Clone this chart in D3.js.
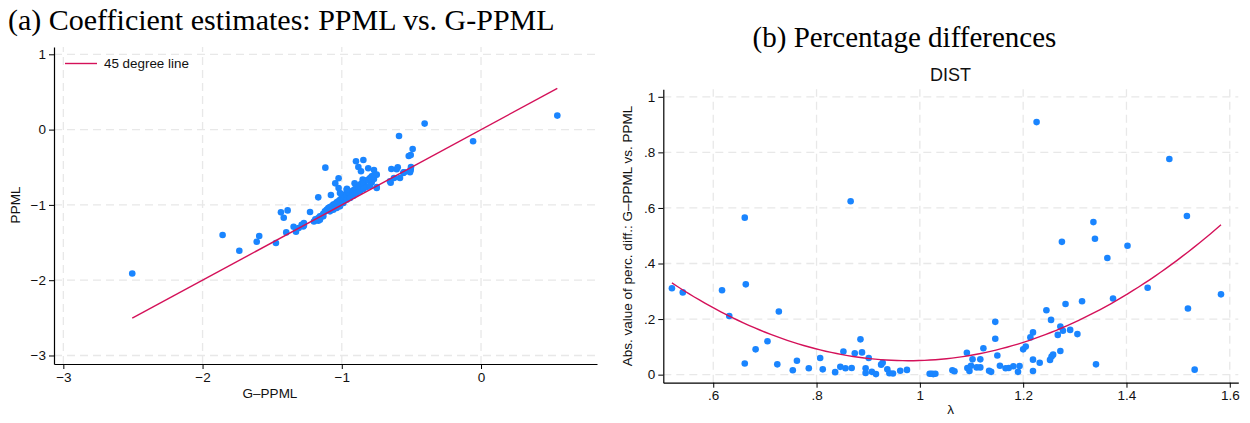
<!DOCTYPE html>
<html>
<head>
<meta charset="utf-8">
<script src="https://cdn.jsdelivr.net/npm/d3@7"></script>
<style>
  html, body { margin: 0; padding: 0; background: #ffffff; }
  svg { display: block; }
  .tick text { font-family: "Liberation Sans", Arial, sans-serif; font-size: 13.5px; fill: #111; }
  .tick line { stroke: #000; stroke-width: 1; }
  .domain { stroke: #000; stroke-width: 1.2; }
</style>
</head>
<body>
<svg id="chart" width="1250" height="423"></svg>
<script>
// Panel (a): coefficient estimates, G-PPML (x) vs. PPML (y)
const gppml = [
  -2.505, -1.856, -1.736, -1.611, -1.593, -1.473, -1.437, -1.417, -1.389, -1.399,
  -1.346, -1.329, -1.310, -1.272, -1.228, -1.169, -1.169, -1.118, -1.078, -1.047,
  -1.023, -1.023, -0.963, -0.908, -0.898, -0.881, -0.862, -0.845, -0.810, -0.769,
  -0.749, -0.769, -0.785, -0.850, -0.857, -0.749, -0.649, -0.644, -0.625, -0.606,
  -0.598, -0.589, -0.555, -0.519, -0.505, -0.491, -0.510, -0.505, -0.503, -0.405,
  -0.057, 0.548,
  -1.288, -1.272, -1.169, -1.157, -1.144, -1.133, -1.121, -1.109, -1.097, -1.085,
  -1.073, -1.061, -1.049, -1.037, -1.025, -1.013, -1.001, -0.989, -0.977, -0.994,
  -0.965, -0.953, -0.941, -0.929, -0.917, -0.905, -0.893, -0.881, -0.869, -0.857,
  -0.845, -0.833, -0.821, -0.809, -0.797, -0.785, -0.774, -0.761, -0.989, -1.013,
  -1.037, -1.061, -1.085, -1.133, -1.157, -0.965, -0.941, -0.917, -0.893, -0.869,
  -0.845, -0.821, -0.797, -0.749, -0.654, -0.582, -0.558, -1.013, -0.965, -1.277,
  -1.200, -1.190, -0.510, -0.553
];
const ppml = [
  -1.911, -1.400, -1.609, -1.489, -1.414, -1.507, -1.099, -1.170, -1.073, -1.365,
  -1.290, -1.356, -1.307, -1.272, -1.095, -0.900, -1.210, -0.505, -0.869, -0.714,
  -0.647, -0.776, -0.785, -0.714, -0.421, -0.496, -0.554, -0.404, -0.514, -0.536,
  -0.598, -0.656, -0.700, -0.665, -0.745, -0.762, -0.705, -0.523, -0.643, -0.527,
  -0.501, -0.084, -0.567, -0.350, -0.337, -0.257, -0.567, -0.532, -0.496, 0.080,
  -0.155, 0.186,
  -1.263, -1.241, -1.174, -1.152, -1.144, -1.117, -1.086, -1.064, -1.041, -1.028,
  -1.019, -0.997, -0.988, -0.966, -0.953, -0.931, -0.909, -0.895, -0.878, -0.864,
  -0.864, -0.842, -0.851, -0.820, -0.807, -0.789, -0.775, -0.762, -0.731, -0.718,
  -0.709, -0.687, -0.674, -0.665, -0.642, -0.621, -0.612, -0.598, -0.975, -1.019,
  -1.041, -1.064, -1.086, -1.152, -1.197, -0.931, -0.909, -0.878, -0.842, -0.820,
  -0.789, -0.762, -0.745, -0.775, -0.687, -0.642, -0.576, -0.842, -0.798, -1.286,
  -1.220, -1.190, -0.554, -0.567
];
const ticksA_x = [-3, -2, -1, 0];
const ticksA_y = [-3, -2, -1, 0, 1];

// Panel (b): percentage differences against lambda, DIST
const lambda = [
  0.520, 0.541, 0.617, 0.631, 0.661, 0.663, 0.661, 0.682, 0.705, 0.724,
  0.727, 0.754, 0.762, 0.785, 0.807, 0.812, 0.836, 0.846, 0.852, 0.856,
  0.866, 0.868, 0.874, 0.885, 0.888, 0.895, 0.895, 0.901, 0.907, 0.915,
  0.925, 0.928, 0.937, 0.941, 0.948, 0.962, 0.975, 1.019, 1.023, 1.026,
  1.030, 1.063, 1.067, 1.091, 1.092, 1.096, 1.099, 1.102, 1.110, 1.117,
  1.117, 1.123, 1.134, 1.138, 1.146, 1.146, 1.150, 1.155, 1.166, 1.172,
  1.181, 1.190, 1.193, 1.200, 1.205, 1.214, 1.219, 1.219, 1.219, 1.226,
  1.232, 1.245, 1.254, 1.252, 1.255, 1.258, 1.267, 1.272, 1.272, 1.275,
  1.277, 1.282, 1.291, 1.305, 1.314, 1.336, 1.339, 1.341, 1.363, 1.374,
  1.402, 1.441, 1.483, 1.517, 1.519, 1.532, 1.583
];
const absDiff = [
  0.311, 0.296, 0.304, 0.211, 0.565, 0.325, 0.040, 0.091, 0.120, 0.037,
  0.227, 0.016, 0.050, 0.023, 0.060, 0.019, 0.009, 0.028, 0.083, 0.023,
  0.624, 0.024, 0.077, 0.127, 0.080, 0.023, 0.006, 0.060, 0.010, 0.002,
  0.036, 0.043, 0.019, 0.005, 0.004, 0.014, 0.017, 0.003, 0.003, 0.002,
  0.003, 0.016, 0.012, 0.079, 0.024, 0.013, 0.032, 0.055, 0.026, 0.055,
  0.026, 0.095, 0.014, 0.010, 0.190, 0.129, 0.069, 0.032, 0.023, 0.024,
  0.030, 0.010, 0.031, 0.091, 0.101, 0.134, 0.152, 0.054, 0.013, 0.909,
  0.043, 0.232, 0.197, 0.053, 0.065, 0.072, 0.143, 0.173, 0.085, 0.478,
  0.158, 0.254, 0.161, 0.146, 0.264, 0.549, 0.489, 0.037, 0.420, 0.274,
  0.464, 0.313, 0.776, 0.571, 0.238, 0.018, 0.289
];
const ticksB_x = [0.6, 0.8, 1.0, 1.2, 1.4, 1.6];
const ticksB_y = [0, 0.2, 0.4, 0.6, 0.8, 1.0];

const BLUE = "#1a85ff";
const RED = "#d41159";
const GRID = "#e8e8e8";
const SANS = '"Liberation Sans", Arial, sans-serif';
const SERIF = '"Liberation Serif", "Times New Roman", serif';

const svg = d3.select("#chart");

// Drop the leading zero the way the axis labels are written (.2, .6, 1.2)
function stataNum(v) {
  let s = d3.format("~g")(Math.round(v * 1000) / 1000);
  if (s.startsWith("0.")) s = s.slice(1);
  if (s.startsWith("−0.")) s = "−" + s.slice(2);
  return s;
}

function drawGrid(g, xs, ys, xt, yt) {
  const [x0, x1] = xs.range();
  const [y0, y1] = ys.range();
  g.append("g").selectAll("line").data(xt).join("line")
    .attr("x1", d => xs(d)).attr("x2", d => xs(d))
    .attr("y1", y0).attr("y2", y1)
    .attr("stroke", GRID).attr("stroke-width", 1.3).attr("stroke-dasharray", "8,5");
  g.append("g").selectAll("line").data(yt).join("line")
    .attr("y1", d => ys(d)).attr("y2", d => ys(d))
    .attr("x1", x0).attr("x2", x1)
    .attr("stroke", GRID).attr("stroke-width", 1.3).attr("stroke-dasharray", "8,5");
}

function drawAxes(g, xs, ys, xt, yt, fmt) {
  const [y0] = ys.range();
  const [x0] = xs.range();
  g.append("g").attr("transform", `translate(0,${y0})`)
    .call(d3.axisBottom(xs).tickValues(xt).tickSize(5).tickSizeOuter(0).tickPadding(3).tickFormat(fmt));
  g.append("g").attr("transform", `translate(${x0},0)`)
    .call(d3.axisLeft(ys).tickValues(yt).tickSize(5).tickSizeOuter(0).tickPadding(3).tickFormat(fmt));
}

// ---------- Panel (a) ----------
const xA = d3.scaleLinear().domain([-3.067, 0.833]).range([54, 597]);
const yA = d3.scaleLinear().domain([-3.113, 1.097]).range([364, 47]);
const gA = svg.append("g");
drawGrid(gA, xA, yA, ticksA_x, ticksA_y);

const ptsA = gppml.map((x, i) => ({ x, y: ppml[i] }));
gA.append("g").selectAll("circle").data(ptsA).join("circle")
  .attr("cx", d => xA(d.x)).attr("cy", d => yA(d.y)).attr("r", 3.3)
  .attr("fill", BLUE);

// 45 degree line over the range of G-PPML estimates
const lo = d3.min(gppml), hi = d3.max(gppml);
gA.append("line")
  .attr("x1", xA(lo)).attr("y1", yA(lo)).attr("x2", xA(hi)).attr("y2", yA(hi))
  .attr("stroke", RED).attr("stroke-width", 1.4);

drawAxes(gA, xA, yA, ticksA_x, ticksA_y, d3.format("d"));

// legend
gA.append("line").attr("x1", 65).attr("x2", 97).attr("y1", 63.5).attr("y2", 63.5)
  .attr("stroke", RED).attr("stroke-width", 1.4);
gA.append("text").attr("x", 104).attr("y", 68).text("45 degree line")
  .attr("font-family", SANS).attr("font-size", 13.4).attr("fill", "#111");

gA.append("text").attr("x", 270).attr("y", 398).attr("text-anchor", "middle")
  .attr("font-family", SANS).attr("font-size", 13.5).attr("fill", "#111").text("G–PPML");
gA.append("text").attr("transform", "translate(20,205) rotate(-90)").attr("text-anchor", "middle")
  .attr("font-family", SANS).attr("font-size", 13.5).attr("fill", "#111").text("PPML");

svg.append("text").attr("x", 8).attr("y", 30)
  .attr("font-family", SERIF).attr("font-size", 30).attr("fill", "#000")
  .text("(a) Coefficient estimates: PPML vs. G-PPML");

// ---------- Panel (b) ----------
const xB = d3.scaleLinear().domain([0.5033, 1.6165]).range([663.3, 1238.3]);
const yB = d3.scaleLinear().domain([-0.029, 1.027]).range([382.7, 89.3]);
const gB = svg.append("g");
drawGrid(gB, xB, yB, ticksB_x, ticksB_y);

const ptsB = lambda.map((x, i) => ({ x, y: absDiff[i] }));
gB.append("g").selectAll("circle").data(ptsB).join("circle")
  .attr("cx", d => xB(d.x)).attr("cy", d => yB(d.y)).attr("r", 3.3)
  .attr("fill", BLUE);

// Quadratic least-squares fit of the differences on lambda
function quadFit(xs, ys) {
  const S = Array.from({ length: 5 }, (_, k) => d3.sum(xs, x => x ** k));
  const T = Array.from({ length: 3 }, (_, k) => d3.sum(xs, (x, i) => ys[i] * x ** k));
  const A = [[S[0], S[1], S[2], T[0]], [S[1], S[2], S[3], T[1]], [S[2], S[3], S[4], T[2]]];
  for (let c = 0; c < 3; c++) {
    for (let r = c + 1; r < 3; r++) {
      const f = A[r][c] / A[c][c];
      for (let k = c; k < 4; k++) A[r][k] -= f * A[c][k];
    }
  }
  const b = [0, 0, 0];
  for (let r = 2; r >= 0; r--) {
    let s = A[r][3];
    for (let k = r + 1; k < 3; k++) s -= A[r][k] * b[k];
    b[r] = s / A[r][r];
  }
  return b;
}
const coef = quadFit(lambda, absDiff);
const lmin = d3.min(lambda), lmax = d3.max(lambda);
const fitX = d3.range(0, 101).map(i => lmin + (lmax - lmin) * i / 100);
gB.append("path")
  .datum(fitX)
  .attr("d", d3.line().x(x => xB(x)).y(x => yB(coef[0] + coef[1] * x + coef[2] * x * x)))
  .attr("fill", "none").attr("stroke", RED).attr("stroke-width", 1.4);

drawAxes(gB, xB, yB, ticksB_x, ticksB_y, stataNum);

gB.append("text").attr("x", 950.5).attr("y", 414).attr("text-anchor", "middle")
  .attr("font-family", SANS).attr("font-size", 13.5).attr("fill", "#111").text("λ");
gB.append("text").attr("transform", "translate(632,236) rotate(-90)").attr("text-anchor", "middle")
  .attr("font-family", SANS).attr("font-size", 13.5).attr("fill", "#111")
  .text("Abs. value of perc. diff.: G–PPML vs. PPML");
gB.append("text").attr("x", 950.5).attr("y", 81).attr("text-anchor", "middle")
  .attr("font-family", SANS).attr("font-size", 18).attr("fill", "#111").text("DIST");

svg.append("text").attr("x", 904.5).attr("y", 47).attr("text-anchor", "middle")
  .attr("font-family", SERIF).attr("font-size", 29).attr("fill", "#000")
  .text("(b) Percentage differences");
</script>
</body>
</html>
